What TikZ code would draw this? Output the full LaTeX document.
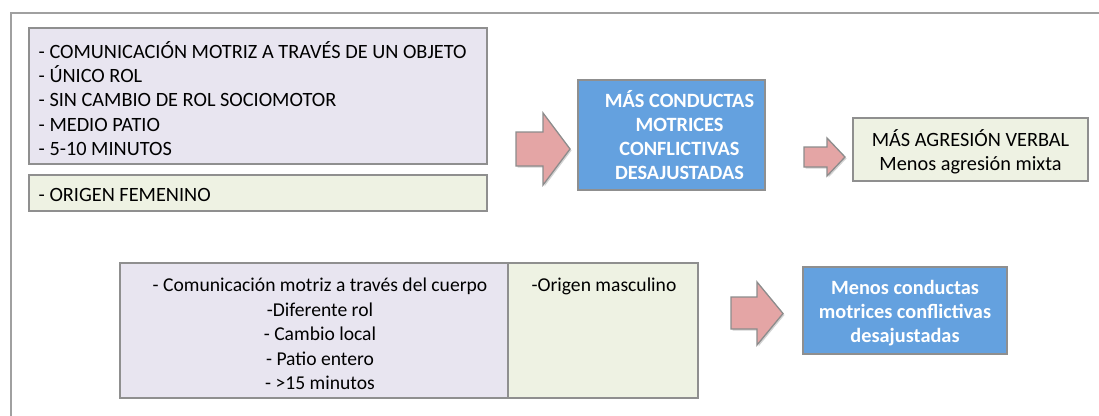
\documentclass[tikz,border=0pt]{standalone}
\usepackage{fontspec}
\setmainfont{Carlito}
\usetikzlibrary{shadows}
\definecolor{frameg}{HTML}{A0A0A0}
\definecolor{boxborder}{HTML}{8F8F8F}
\definecolor{lav}{HTML}{E8E5F0}
\definecolor{grn}{HTML}{EEF2E3}
\definecolor{blu}{HTML}{64A1DF}
\definecolor{arrf}{HTML}{E4A5A5}
\definecolor{arrb}{HTML}{8C8C8C}
\tikzset{
  box/.style={draw=boxborder, line width=1.3pt, inner sep=0pt, outer sep=0pt, anchor=north west},
  lavbox/.style={box, fill=lav},
  grnbox/.style={box, fill=grn},
  blubox/.style={box, fill=blu},
  txt/.style={inner sep=0pt, font=\fontsize{20.3}{24.4}\selectfont},
  btxt/.style={inner sep=0pt, font=\fontsize{19.6}{24.4}\selectfont},
  wtxt/.style={inner sep=0pt, text=white, font=\fontsize{20.3}{24}\selectfont\bfseries, align=center},
  blockarrow/.style={fill=arrf, draw=arrb, line width=1.3pt, line join=miter,
     drop shadow={opacity=0.35, shadow xshift=1.5pt, shadow yshift=-1.5pt}}
}
\begin{document}
\begin{tikzpicture}[x=1pt,y=-1pt]
\useasboundingbox (0,0) rectangle (1099,415);
% outer frame
\draw[frameg, line width=2pt] (11,416) -- (11,12.5) -- (1100,12.5);

% top-left boxes
\node[lavbox, minimum width=458pt, minimum height=136pt] (b1) at (29,28) {};
\node[txt, anchor=north west, align=left] (t1) at (38.5,41)
  {- COMUNICACIÓN MOTRIZ A TRAVÉS DE UN OBJETO\\
   - ÚNICO ROL\\
   - SIN CAMBIO DE ROL SOCIOMOTOR\\
   - MEDIO PATIO\\
   - 5-10 MINUTOS};
\node[grnbox, minimum width=458pt, minimum height=36pt] (b2) at (29,175) {};
\node[txt, anchor=west] (t2) at (38.5,195) {- ORIGEN FEMENINO};

% arrow 1
\draw[blockarrow] (516,132) -- (543,132) -- (543,113) -- (570,149) -- (543,185) -- (543,166) -- (516,166) -- cycle;

% blue box 1
\node[blubox, minimum width=187pt, minimum height=110pt] (c1) at (578,80) {};
\node[wtxt] (ct1) at ([xshift=8pt]c1.center) {MÁS CONDUCTAS\\MOTRICES\\CONFLICTIVAS\\DESAJUSTADAS};

% arrow 2
\draw[blockarrow] (804,147) -- (827,147) -- (827,138) -- (845,157) -- (827,176) -- (827,167) -- (804,167) -- cycle;

% result box
\node[grnbox, minimum width=235pt, minimum height=63pt] (r1) at (853,118) {};
\node[txt, align=center] (rt1) at ([yshift=-2.5pt]r1.center) {MÁS AGRESIÓN VERBAL\\Menos agresión mixta};

% bottom boxes
\node[lavbox, minimum width=388pt, minimum height=135pt] (b3) at (120,263) {};
\node[grnbox, minimum width=190pt, minimum height=135pt] (b4) at (508,263) {};
\node[btxt, align=center, anchor=north] (t3) at (320,278)
  {- Comunicación motriz a través del cuerpo\\
   -Diferente rol\\
   - Cambio local\\
   - Patio entero\\
   - >15 minutos};
\node[btxt, anchor=north] (t4) at (604,278) {-Origen masculino};

% arrow 3
\draw[blockarrow] (731,297) -- (757,297) -- (757,282) -- (783,313.5) -- (757,345) -- (757,329) -- (731,329) -- cycle;

% blue box 2
\node[blubox, minimum width=204pt, minimum height=87pt] (c2) at (803,267) {};
\node[wtxt] (ct2) at ([yshift=-3pt]c2.center) {Menos conductas\\motrices conflictivas\\desajustadas};
\end{tikzpicture}
\end{document}
